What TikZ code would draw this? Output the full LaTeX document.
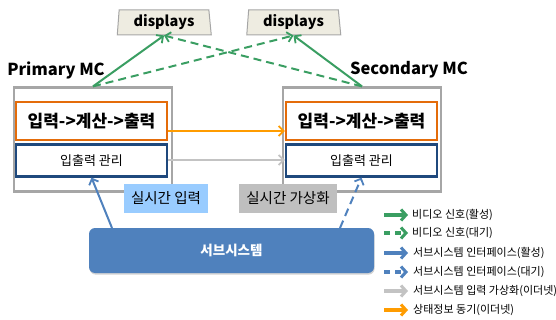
\documentclass[tikz,border=0pt]{standalone}
\usepackage{fontspec}
\setmainfont{Noto Sans CJK KR}
\usetikzlibrary{arrows.meta,shapes.geometric,shadows}

\definecolor{vidgreen}{HTML}{3A9E62}
\definecolor{subblue}{HTML}{4F81BD}
\definecolor{iodark}{HTML}{1F497D}
\definecolor{calcorange}{HTML}{E46C0A}
\definecolor{syncorange}{HTML}{FF9C00}
\definecolor{mcgray}{HTML}{A6A6A6}
\definecolor{virtgray}{HTML}{C3C3C3}
\definecolor{dispfill}{HTML}{EEECE1}
\definecolor{tagblue}{HTML}{99CCFF}
\definecolor{taggray}{HTML}{BFBFBF}

\tikzset{
  mcbox/.style={draw=mcgray, line width=2.2pt, minimum width=158pt, minimum height=104pt},
  calcbox/.style={draw=calcorange, line width=2.2pt, fill=white, minimum width=151pt, minimum height=38pt,
    font=\fontsize{17}{20}\selectfont\bfseries},
  iobox/.style={draw=iodark, line width=2.2pt, fill=white, minimum width=151pt, minimum height=32pt,
    font=\fontsize{13}{15}\selectfont},
  dispbox/.style={trapezium, trapezium stretches body, trapezium left angle=83, trapezium right angle=81,
    draw=mcgray, fill=dispfill, line width=1pt, minimum width=94pt, minimum height=25pt,
    inner sep=0pt, font=\fontsize{14.5}{16}\selectfont\bfseries},
  mclabel/.style={font=\fontsize{16.5}{20}\selectfont\bfseries},
  tagbox/.style={minimum height=29pt, inner xsep=7pt, font=\fontsize{14.5}{16}\selectfont},
  legtext/.style={anchor=west, inner sep=0pt, font=\fontsize{11}{12}\selectfont},
  link/.style={line width=2pt, -{Straight Barb[length=5pt,width=10pt,line width=1.8pt]}},
  dashlink/.style={link, dash pattern=on 8pt off 5pt},
  legarrow/.style={line width=3.2pt, -{Straight Barb[length=5pt,width=11pt,line width=3pt]}},
  legdash/.style={legarrow, dash pattern=on 6pt off 5pt},
}

\begin{document}
\begin{tikzpicture}[x=1pt,y=-1pt]
\useasboundingbox (0,0) rectangle (556,320);

% displays
\node[dispbox] (dispL) at (164,22.5) {displays};
\node[dispbox] (dispR) at (293.5,22.5) {displays};

% main controllers
\node[mclabel] (plabel) at (56,70) {Primary MC};
\node[mclabel] (slabel) at (409,70) {Secondary MC};

\node[mcbox] (prim) at (93,139.5) {};
\node[mcbox] (sec) at (362,139.5) {};

\node[calcbox] (pcalc) at (91.5,121) {입력->계산->출력};
\node[iobox] (pio) at (91.5,160.5) {입출력 관리};
\node[calcbox] (scalc) at (361.5,121) {입력->계산->출력};
\node[iobox] (sio) at (361.5,160.5) {입출력 관리};

% subsystem and tags
\node[tagbox, fill=tagblue] (tagin) at (166,198.5) {실시간 입력};
\node[tagbox, fill=taggray] (tagvirt) at (288,198.5) {실시간 가상화};

\node[draw=none, fill=subblue, rounded corners=6pt, minimum width=285pt, minimum height=45pt,
  text=white, font=\fontsize{13.5}{15}\selectfont\bfseries,
  drop shadow={shadow xshift=0.6pt, shadow yshift=-1.6pt, opacity=0.35}] (sub) at (231.5,250.5) {서브시스템};

% video links
\draw[link, vidgreen] (prim.north) -- (dispL.south);
\draw[dashlink, vidgreen] (prim.north) -- (dispR.south);
\draw[link, vidgreen] (sec.north) -- (dispR.south);
\draw[dashlink, vidgreen] (sec.north) -- (dispL.south);

% state sync and io virtualisation
\draw[link, syncorange] (pcalc.east |- 0,131) -- (scalc.west |- 0,131);
\draw[link, virtgray] (pio.east |- 0,160) -- (sio.west |- 0,160);

% subsystem interfaces
\coordinate (subA) at (112,228);
\coordinate (subS) at (340,228);
\draw[link, subblue] (subA) -- (pio.south);
\draw[dashlink, subblue] (subS) -- (sio.south);

% legend
\foreach \i/\y in {1/215,2/233,3/253,4/272,5/291,6/310}{
  \coordinate (la\i) at (384,\y);
  \coordinate (lb\i) at (408,\y);
}
\draw[legarrow, vidgreen] (la1) -- (lb1);
\draw[legdash, vidgreen] (la2) -- (lb2);
\draw[legarrow, subblue] (la3) -- (lb3);
\draw[legdash, subblue] (la4) -- (lb4);
\draw[legarrow, virtgray] (la5) -- (lb5);
\draw[legarrow, syncorange] (la6) -- (lb6);

\node[legtext] (lt1) at (412,215) {비디오 신호(활성)};
\node[legtext] (lt2) at (412,233) {비디오 신호(대기)};
\node[legtext] (lt3) at (413,253) {서브시스템 인터페이스(활성)};
\node[legtext] (lt4) at (413,272) {서브시스템 인터페이스(대기)};
\node[legtext] (lt5) at (413,291) {서브시스템 입력 가상화(이더넷)};
\node[legtext] (lt6) at (413,310) {상태정보 동기(이더넷)};
\end{tikzpicture}
\end{document}
